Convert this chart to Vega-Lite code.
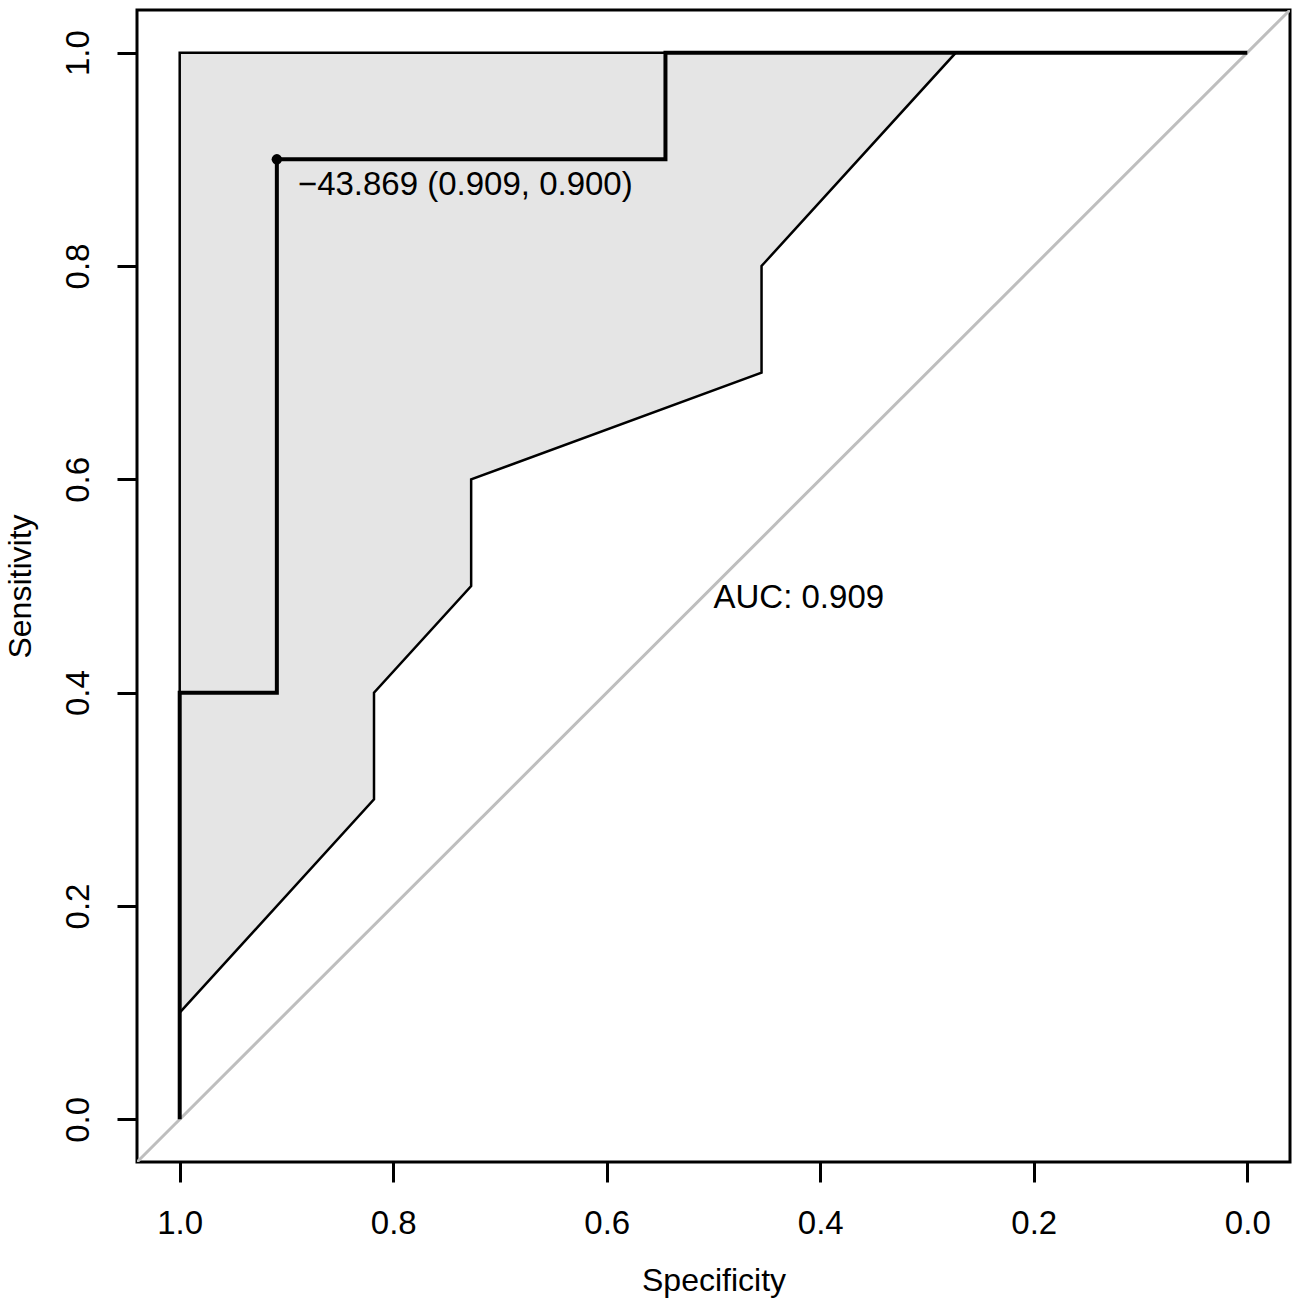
{
  "$schema": "https://vega.github.io/schema/vega-lite/v6.json",
  "autosize": {"type": "none"},
  "padding": {"left": 137, "top": 10, "right": 12, "bottom": 148},
  "width": 1153,
  "height": 1152,
  "background": "white",
  "config": {
    "view": {"stroke": "black", "strokeWidth": 3},
    "font": "Liberation Sans",
    "axis": {
      "domain": false,
      "grid": false,
      "ticks": true,
      "tickColor": "black",
      "tickWidth": 3,
      "tickSize": 20,
      "labelColor": "black",
      "labelFont": "Liberation Sans",
      "labelFontSize": 33,
      "titleColor": "black",
      "titleFont": "Liberation Sans",
      "titleFontSize": 32,
      "titleFontWeight": "normal"
    }
  },
  "datasets": {
    "band": [
      {"sp": 0.273, "lo": 1.0, "hi": 1.0},
      {"sp": 0.455, "lo": 0.7, "hi": 1.0},
      {"sp": 0.455, "lo": 0.8, "hi": 1.0},
      {"sp": 0.727, "lo": 0.5, "hi": 1.0},
      {"sp": 0.727, "lo": 0.6, "hi": 1.0},
      {"sp": 0.818, "lo": 0.3, "hi": 1.0},
      {"sp": 0.818, "lo": 0.4, "hi": 1.0},
      {"sp": 1.0, "lo": 0.1, "hi": 1.0}
    ],
    "roc": [
      {"sp": 1.0, "se": 0.0, "k": 1},
      {"sp": 1.0, "se": 0.4, "k": 2},
      {"sp": 0.909, "se": 0.4, "k": 3},
      {"sp": 0.909, "se": 0.9, "k": 4},
      {"sp": 0.545, "se": 0.9, "k": 5},
      {"sp": 0.545, "se": 1.0, "k": 6},
      {"sp": 0.0, "se": 1.0, "k": 7}
    ],
    "diag": [
      {"sp": 1.04, "se": -0.04},
      {"sp": -0.04, "se": 1.04}
    ],
    "thr": [
      {"sp": 0.909, "se": 0.9, "label": "−43.869 (0.909, 0.900)"}
    ],
    "auc": [
      {"sp": 0.5, "se": 0.5, "label": "AUC: 0.909"}
    ]
  },
  "layer": [
    {
      "data": {"name": "band"},
      "mark": {"type": "area", "fill": "#e5e5e5", "stroke": "black", "strokeWidth": 2.5, "clip": true, "orient": "vertical"},
      "encoding": {
        "x": {
          "field": "sp", "type": "quantitative",
          "scale": {"domain": [-0.04, 1.04], "reverse": true, "nice": false, "zero": false},
          "axis": {
            "values": [0, 0.2, 0.4, 0.6, 0.8, 1.0],
            "format": ".1f",
            "title": "Specificity",
            "labelBaseline": "alphabetic",
            "labelPadding": 51,
            "titleBaseline": "alphabetic",
            "titleY": 128
          }
        },
        "y": {
          "field": "lo", "type": "quantitative",
          "stack": null,
          "scale": {"domain": [-0.04, 1.04], "nice": false, "zero": false},
          "axis": {
            "values": [0, 0.2, 0.4, 0.6, 0.8, 1.0],
            "format": ".1f",
            "title": "Sensitivity",
            "labelAngle": -90,
            "labelAlign": "center",
            "labelBaseline": "alphabetic",
            "labelPadding": 29,
            "titleAngle": -90,
            "titleBaseline": "alphabetic",
            "titleX": -107
          }
        },
        "y2": {"field": "hi"}
      }
    },
    {
      "data": {"name": "diag"},
      "mark": {"type": "line", "color": "#bebebe", "strokeWidth": 3, "clip": true},
      "encoding": {
        "x": {"field": "sp", "type": "quantitative"},
        "y": {"field": "se", "type": "quantitative"}
      }
    },
    {
      "data": {"name": "roc"},
      "mark": {"type": "line", "color": "black", "strokeWidth": 4},
      "encoding": {
        "x": {"field": "sp", "type": "quantitative"},
        "y": {"field": "se", "type": "quantitative"},
        "order": {"field": "k", "type": "quantitative"}
      }
    },
    {
      "data": {"name": "thr"},
      "mark": {"type": "point", "filled": true, "color": "black", "size": 110, "opacity": 1},
      "encoding": {
        "x": {"field": "sp", "type": "quantitative"},
        "y": {"field": "se", "type": "quantitative"}
      }
    },
    {
      "data": {"name": "thr"},
      "mark": {"type": "text", "align": "left", "baseline": "alphabetic", "dx": 21, "dy": 36, "fontSize": 33, "font": "Liberation Sans", "color": "black"},
      "encoding": {
        "x": {"field": "sp", "type": "quantitative"},
        "y": {"field": "se", "type": "quantitative"},
        "text": {"field": "label"}
      }
    },
    {
      "data": {"name": "auc"},
      "mark": {"type": "text", "align": "left", "baseline": "alphabetic", "dy": 22, "fontSize": 33, "font": "Liberation Sans", "color": "black"},
      "encoding": {
        "x": {"field": "sp", "type": "quantitative"},
        "y": {"field": "se", "type": "quantitative"},
        "text": {"field": "label"}
      }
    }
  ]
}
